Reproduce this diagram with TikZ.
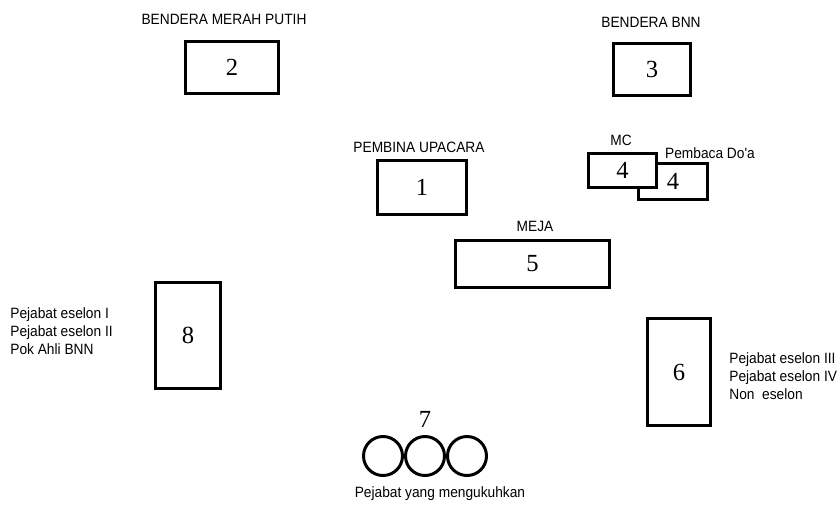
\documentclass[tikz,border=0pt]{standalone}
\usepackage{fontspec}
\setmainfont{Liberation Serif}
\newfontfamily\labelfont[FakeStretch=0.92]{Liberation Sans}
\usetikzlibrary{positioning}

\tikzset{
  seat/.style={draw, line width=2pt, fill=white, inner sep=0pt,
    font=\fontsize{14}{14}\selectfont},
  chair/.style={draw, circle, line width=1.7pt, minimum size=39\pxu, inner sep=0pt},
  caption/.style={font=\labelfont\fontsize{8.5}{10.2}\selectfont, inner sep=0pt, align=left}
}
\newlength{\pxu}
\setlength{\pxu}{0.02cm}

\begin{document}
\begin{tikzpicture}[x=0.02cm, y=-0.02cm]
\useasboundingbox (0,0) rectangle (840,505);

% flags
\node (flag2) [seat, minimum width=93\pxu, minimum height=52\pxu] at (232,67.5) {2};
\node (flag3) [seat, minimum width=77\pxu, minimum height=52\pxu] at (652,69.5) {3};
\node (flag2lbl) [caption] at (224,19) {BENDERA MERAH PUTIH};
\node (flag3lbl) [caption] at (651,22) {BENDERA BNN};

% front
\node (inspector) [seat, minimum width=89\pxu, minimum height=54\pxu] at (422,187.5) {1};
\node (inspectorlbl) [caption] at (419,147) {PEMBINA UPACARA};
\node (prayer) [seat, minimum width=69\pxu, minimum height=36\pxu] at (673,181.5) {4};
\node (mc) [seat, minimum width=68\pxu, minimum height=34\pxu] at (622.5,170.5) {4};
\node (mclbl) [caption] at (621,140) {MC};
\node (prayerlbl) [caption] at (710,153) {Pembaca Do'a};
\node (table) [seat, minimum width=154\pxu, minimum height=47\pxu] at (532.5,264) {5};
\node (tablelbl) [caption] at (535,226) {MEJA};

% officials
\node (group8) [seat, minimum width=65\pxu, minimum height=106\pxu] at (188,335.5) {8};
\node (group8lbl) [caption, anchor=west] at (10,331) {Pejabat eselon I\\Pejabat eselon II\\Pok Ahli BNN};
\node (group6) [seat, minimum width=63\pxu, minimum height=107\pxu] at (679,372) {6};
\node (group6lbl) [caption, anchor=west] at (729,376) {Pejabat eselon III\\Pejabat eselon IV\\Non\ \ eselon};

% chairs
\node (chairA) [chair] at (383,456) {};
\node (chairB) [chair] at (425,456) {};
\node (chairC) [chair] at (467,456) {};
\node (chairnum) [font=\fontsize{14}{14}\selectfont, inner sep=0pt] at (425,419) {7};
\node (chairlbl) [caption] at (440,494) {Pejabat yang mengukuhkan};
\end{tikzpicture}
\end{document}
